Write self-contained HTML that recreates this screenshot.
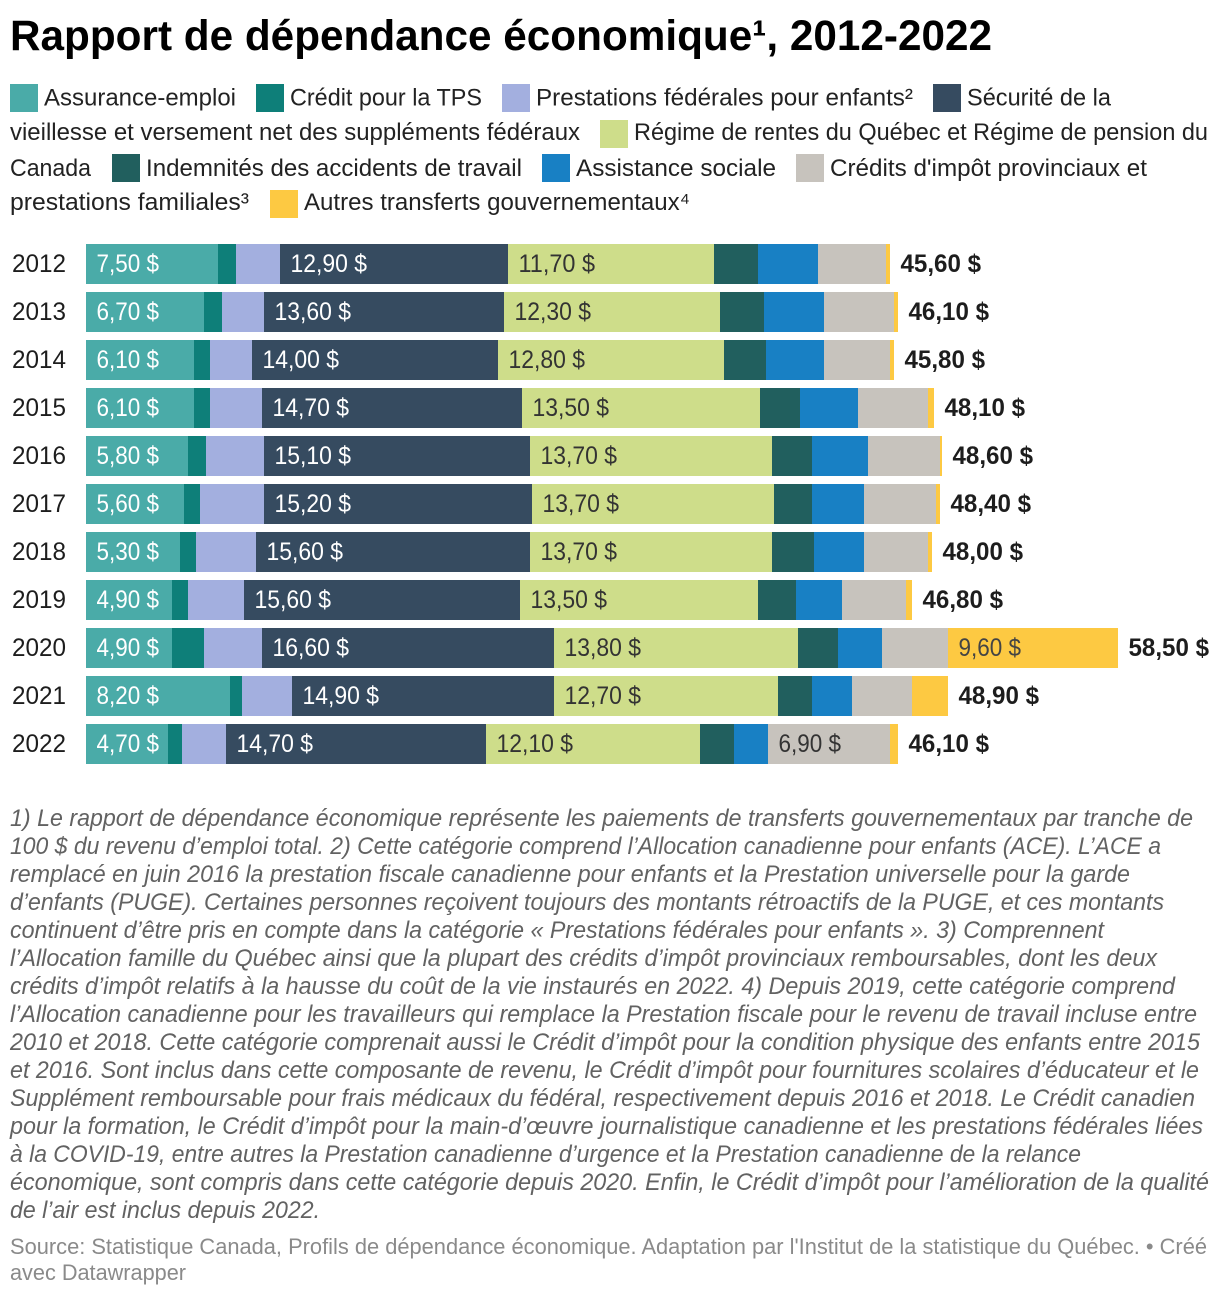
<!DOCTYPE html>
<html lang="fr">
<head>
<meta charset="utf-8">
<title>Rapport de dépendance économique</title>
<style>
html,body{margin:0;padding:0;background:#fff;}
svg{display:block;}
text{font-family:"Liberation Sans",sans-serif;white-space:pre;}
.title{font-size:43px;font-weight:700;fill:#000;}
.leg{font-size:24.5px;fill:#222;}
.note{font-size:24.5px;font-style:italic;fill:#626262;}
.src{font-size:22.5px;fill:#8a8a8a;}
.year{font-size:25px;fill:#1d1d1d;}
.val{font-size:25px;}
.total{font-size:25px;font-weight:700;fill:#1d1d1d;}
</style>
</head>
<body>
<svg id="chart" width="1220" height="1298" viewBox="0 0 1220 1298" xmlns="http://www.w3.org/2000/svg">
<rect x="0" y="0" width="1220" height="1298" fill="#fff"/>
<text class="title" x="10" y="50" textLength="982" lengthAdjust="spacingAndGlyphs">Rapport de dépendance économique¹, 2012-2022</text>

<g>
<rect x="10" y="84" width="28" height="28" fill="#4AABA8"/>
<text class="leg" x="44" y="105.5" textLength="192" lengthAdjust="spacingAndGlyphs">Assurance-emploi</text>
<rect x="256" y="84" width="28" height="28" fill="#0E7F79"/>
<text class="leg" x="290" y="105.5" textLength="192" lengthAdjust="spacingAndGlyphs">Crédit pour la TPS</text>
<rect x="502" y="84" width="28" height="28" fill="#A3AFDF"/>
<text class="leg" x="536" y="105.5" textLength="377" lengthAdjust="spacingAndGlyphs">Prestations fédérales pour enfants²</text>
<rect x="933" y="84" width="28" height="28" fill="#364B60"/>
<text class="leg" x="967" y="105.5" textLength="144" lengthAdjust="spacingAndGlyphs">Sécurité de la</text>
<text class="leg" x="10" y="140" textLength="570" lengthAdjust="spacingAndGlyphs">vieillesse et versement net des suppléments fédéraux</text>
<rect x="600" y="120" width="28" height="28" fill="#CEDD8A"/>
<text class="leg" x="634" y="140" textLength="574" lengthAdjust="spacingAndGlyphs">Régime de rentes du Québec et Régime de pension du</text>
<text class="leg" x="10" y="176" textLength="81" lengthAdjust="spacingAndGlyphs">Canada</text>
<rect x="112" y="154" width="28" height="28" fill="#215F5E"/>
<text class="leg" x="146" y="176" textLength="376" lengthAdjust="spacingAndGlyphs">Indemnités des accidents de travail</text>
<rect x="542" y="154" width="28" height="28" fill="#1880C4"/>
<text class="leg" x="576" y="176" textLength="200" lengthAdjust="spacingAndGlyphs">Assistance sociale</text>
<rect x="796" y="154" width="28" height="28" fill="#C7C3BD"/>
<text class="leg" x="830" y="176" textLength="317" lengthAdjust="spacingAndGlyphs">Crédits d'impôt provinciaux et</text>
<text class="leg" x="10" y="210" textLength="239" lengthAdjust="spacingAndGlyphs">prestations familiales³</text>
<rect x="270" y="190" width="28" height="28" fill="#FDC942"/>
<text class="leg" x="304" y="210" textLength="386" lengthAdjust="spacingAndGlyphs">Autres transferts gouvernementaux⁴</text>
</g>

<g id="plot"></g>

<g>
<text class="note" x="10" y="826" textLength="1183" lengthAdjust="spacingAndGlyphs">1) Le rapport de dépendance économique représente les paiements de transferts gouvernementaux par tranche de</text>
<text class="note" x="10" y="854" textLength="1151" lengthAdjust="spacingAndGlyphs">100 $ du revenu d’emploi total. 2) Cette catégorie comprend l’Allocation canadienne pour enfants (ACE). L’ACE a</text>
<text class="note" x="10" y="882" textLength="1120" lengthAdjust="spacingAndGlyphs">remplacé en juin 2016 la prestation fiscale canadienne pour enfants et la Prestation universelle pour la garde</text>
<text class="note" x="10" y="910" textLength="1154" lengthAdjust="spacingAndGlyphs">d’enfants (PUGE). Certaines personnes reçoivent toujours des montants rétroactifs de la PUGE, et ces montants</text>
<text class="note" x="10" y="938" textLength="1094" lengthAdjust="spacingAndGlyphs">continuent d’être pris en compte dans la catégorie « Prestations fédérales pour enfants ». 3) Comprennent</text>
<text class="note" x="10" y="966" textLength="1147" lengthAdjust="spacingAndGlyphs">l’Allocation famille du Québec ainsi que la plupart des crédits d’impôt provinciaux remboursables, dont les deux</text>
<text class="note" x="10" y="994" textLength="1165" lengthAdjust="spacingAndGlyphs">crédits d’impôt relatifs à la hausse du coût de la vie instaurés en 2022. 4) Depuis 2019, cette catégorie comprend</text>
<text class="note" x="10" y="1022" textLength="1187" lengthAdjust="spacingAndGlyphs">l’Allocation canadienne pour les travailleurs qui remplace la Prestation fiscale pour le revenu de travail incluse entre</text>
<text class="note" x="10" y="1050" textLength="1190" lengthAdjust="spacingAndGlyphs">2010 et 2018. Cette catégorie comprenait aussi le Crédit d’impôt pour la condition physique des enfants entre 2015</text>
<text class="note" x="10" y="1078" textLength="1189" lengthAdjust="spacingAndGlyphs">et 2016. Sont inclus dans cette composante de revenu, le Crédit d’impôt pour fournitures scolaires d’éducateur et le</text>
<text class="note" x="10" y="1106" textLength="1185" lengthAdjust="spacingAndGlyphs">Supplément remboursable pour frais médicaux du fédéral, respectivement depuis 2016 et 2018. Le Crédit canadien</text>
<text class="note" x="10" y="1134" textLength="1193" lengthAdjust="spacingAndGlyphs">pour la formation, le Crédit d’impôt pour la main-d’œuvre journalistique canadienne et les prestations fédérales liées</text>
<text class="note" x="10" y="1162" textLength="1071" lengthAdjust="spacingAndGlyphs">à la COVID-19, entre autres la Prestation canadienne d’urgence et la Prestation canadienne de la relance</text>
<text class="note" x="10" y="1190" textLength="1199" lengthAdjust="spacingAndGlyphs">économique, sont compris dans cette catégorie depuis 2020. Enfin, le Crédit d’impôt pour l’amélioration de la qualité</text>
<text class="note" x="10" y="1218" textLength="310" lengthAdjust="spacingAndGlyphs">de l’air est inclus depuis 2022.</text>
</g>
<text class="src" x="10" y="1254" textLength="1197" lengthAdjust="spacingAndGlyphs">Source: Statistique Canada, Profils de dépendance économique. Adaptation par l'Institut de la statistique du Québec. • Créé</text>
<text class="src" x="10" y="1280" textLength="176" lengthAdjust="spacingAndGlyphs">avec Datawrapper</text>
</svg>

<script>
const years = ['2012','2013','2014','2015','2016','2017','2018','2019','2020','2021','2022'];
const seriesNames = ['assurance-emploi','credit-tps','prestations-enfants','securite-vieillesse','rentes','indemnites','assistance-sociale','credits-provinciaux','autres-transferts'];
const seriesColors = ['#4AABA8','#0E7F79','#A3AFDF','#364B60','#CEDD8A','#215F5E','#1880C4','#C7C3BD','#FDC942'];
const seriesText = ['#fff','#fff','#333','#fff','#333','#fff','#fff','#333','#444'];
const assuranceEmploi = [7.5,6.7,6.1,6.1,5.8,5.6,5.3,4.9,4.9,8.2,4.7];
const creditTps = [1.0,1.0,0.9,0.9,1.0,0.9,0.9,0.9,1.8,0.6,0.7];
const prestationsEnfants = [2.5,2.4,2.4,3.0,3.3,3.6,3.4,3.2,3.3,2.9,2.5];
const securiteVieillesse = [12.9,13.6,14.0,14.7,15.1,15.2,15.6,15.6,16.55,14.86,14.74];
const rentes = [11.7,12.25,12.8,13.5,13.7,13.7,13.7,13.5,13.8,12.7,12.14];
const indemnites = [2.5,2.5,2.4,2.3,2.3,2.2,2.4,2.2,2.3,1.9,1.9];
const assistanceSociale = [3.4,3.4,3.2,3.3,3.1,2.9,2.8,2.6,2.5,2.3,2.0];
const creditsProvinciaux = [3.9,4.0,3.8,3.9,4.1,4.1,3.6,3.6,3.7,3.4,6.9];
const autresTransferts = [0.2,0.2,0.2,0.4,0.1,0.2,0.3,0.3,9.6,2.0,0.4];
const totals = [45.6,46.1,45.8,48.1,48.6,48.4,48.0,46.8,58.5,48.9,46.1];
const series = [assuranceEmploi,creditTps,prestationsEnfants,securiteVieillesse,rentes,indemnites,assistanceSociale,creditsProvinciaux,autresTransferts];

const SVG_NS = 'http://www.w3.org/2000/svg';
const plot = document.getElementById('plot');
const plotLeft = 86, plotWidth = 1032, domainMax = 58.5;
const rowTop = 244, rowStep = 48, barHeight = 40, minLabelValue = 4.5;

function xScale(v) {
  return plotLeft + 2 * Math.round((v / domainMax) * plotWidth / 2);
}
function yScale(i) {
  return rowTop + i * rowStep;
}
function money(v) {
  return v.toFixed(1).replace('.', ',') + '0 $';
}
function makeText(cls, x, y, content, length) {
  const t = document.createElementNS(SVG_NS, 'text');
  t.setAttribute('class', cls);
  t.setAttribute('x', x);
  t.setAttribute('y', y);
  t.setAttribute('textLength', length);
  t.setAttribute('lengthAdjust', 'spacingAndGlyphs');
  t.textContent = content;
  return t;
}

years.forEach(function (year, i) {
  const y = yScale(i);
  const row = document.createElementNS(SVG_NS, 'g');
  
  

  const yearLabel = makeText('year', 12, y + 28, year, 54);
  
  
  row.appendChild(yearLabel);

  let cum = 0;
  series.forEach(function (values, s) {
    const v = values[i];
    const x0 = xScale(cum);
    const x1 = xScale(cum + v);
    cum += v;
    const r = document.createElementNS(SVG_NS, 'rect');
    r.setAttribute('x', x0);
    r.setAttribute('y', y);
    r.setAttribute('width', Math.max(0, x1 - x0));
    r.setAttribute('height', barHeight);
    r.setAttribute('fill', seriesColors[s]);
    
    
    row.appendChild(r);
  });

  cum = 0;
  series.forEach(function (values, s) {
    const v = values[i];
    const x0 = xScale(cum);
    cum += v;
    if (v >= minLabelValue) {
      const str = money(v);
      const lab = makeText('val', x0 + 10.5, y + 28, str, str.length === 6 ? 62.5 : 76.5);
      lab.setAttribute('fill', seriesText[s]);
      
      
      row.appendChild(lab);
    }
  });

  const total = makeText('total', xScale(cum) + 10.5, y + 28, money(totals[i]), 80.5);
  
  
  row.appendChild(total);

  plot.appendChild(row);
});
</script>
</body>
</html>
